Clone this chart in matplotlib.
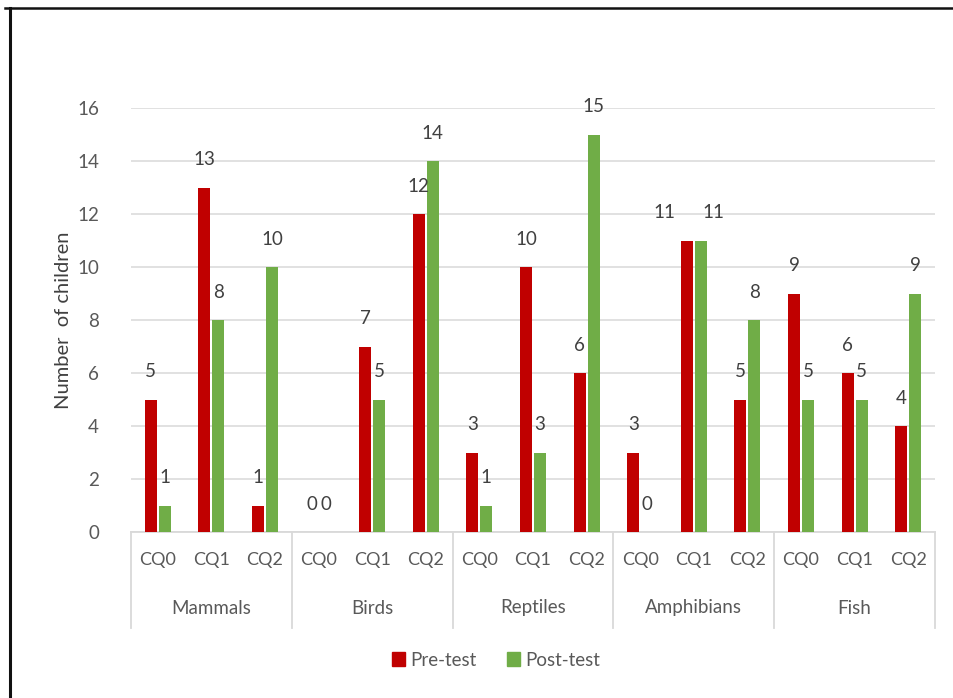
import matplotlib
matplotlib.use("Agg")
import matplotlib.pyplot as plt
from matplotlib.lines import Line2D
from matplotlib.patches import Patch

# Data
groups = ["Mammals", "Birds", "Reptiles", "Amphibians", "Fish"]
questions = ["CQ0", "CQ1", "CQ2"]
pre_test = [5, 13, 1, 0, 7, 12, 3, 10, 6, 3, 11, 5, 9, 6, 4]
post_test = [1, 8, 10, 0, 5, 14, 1, 3, 15, 0, 11, 8, 5, 5, 9]

RED = "#C00000"
GREEN = "#70AD47"
TEXT = "#595959"
GRID = "#D9D9D9"

plt.rcParams["font.family"] = ["Lato", "DejaVu Sans"]

W, H = 954, 698
fig = plt.figure(figsize=(W / 100, H / 100), dpi=100)
ax = fig.add_axes([131 / W, 1 - 532 / H, (935 - 131) / W, (532 - 108) / H])

n = len(pre_test)
x = list(range(n))
bw = 0.225
off = 0.13

ax.bar([i - off for i in x], pre_test, width=bw, color=RED, zorder=3)
ax.bar([i + off for i in x], post_test, width=bw, color=GREEN, zorder=3)

# Equal-height neighbouring labels are pushed apart sideways so they stay legible
def nudge(i):
    if pre_test[i] == post_test[i] and pre_test[i] > 0:
        return -16, 9
    return 0, 0

for i in x:
    dl, dr = nudge(i)
    ax.annotate(str(pre_test[i]), (i - off, pre_test[i]), xytext=(dl, 20),
                textcoords="offset points", ha="center", va="center",
                fontsize=13.5, color="#404040")
    ax.annotate(str(post_test[i]), (i + off, post_test[i]), xytext=(dr, 20),
                textcoords="offset points", ha="center", va="center",
                fontsize=13.5, color="#404040")

ax.set_xlim(-0.5, n - 0.5)
ax.set_ylim(0, 16)
ax.set_yticks(range(0, 17, 2))
ax.yaxis.grid(True, color=GRID, linewidth=1.1, zorder=0)
ax.set_axisbelow(True)
ax.tick_params(axis="y", length=0, pad=23, labelsize=13.5, labelcolor=TEXT)
ax.set_xticks([])
for s in ["top", "right", "left"]:
    ax.spines[s].set_visible(False)
ax.spines["bottom"].set_color(GRID)
ax.spines["bottom"].set_linewidth(1.3)

ax.set_ylabel("Number  of children", fontsize=14.5, color="#404040", labelpad=4)

# Two-level category axis
tr = ax.get_xaxis_transform()
ax_h = 532 - 108
for gi, g in enumerate(groups):
    for qi, q in enumerate(questions):
        ax.text(gi * 3 + qi, -(560 - 532) / ax_h, q, transform=tr,
                ha="center", va="center", fontsize=13, color=TEXT)
    ax.text(gi * 3 + 1, -(608 - 532) / ax_h, g, transform=tr,
            ha="center", va="center", fontsize=13.5, color=TEXT)
for b in range(len(groups) + 1):
    ax.add_line(Line2D([b * 3 - 0.5, b * 3 - 0.5], [0, -(628 - 532) / ax_h],
                       transform=tr, color=GRID, linewidth=1.3, clip_on=False))

handles = [Patch(color=RED, label="Pre-test"), Patch(color=GREEN, label="Post-test")]
fig.legend(handles=handles, loc="center", bbox_to_anchor=(496 / W, 1 - 660 / H),
           ncol=2, frameon=False, fontsize=13.5, handlelength=0.7, handleheight=0.7,
           handletextpad=0.3, columnspacing=1.6, labelcolor=TEXT)

# Outer frame (top and left edges)
fig.add_artist(Line2D([5 / W, 1], [1 - 8 / H, 1 - 8 / H], transform=fig.transFigure,
                      color="#111111", linewidth=1.8))
fig.add_artist(Line2D([10 / W, 10 / W], [0, 1 - 8 / H], transform=fig.transFigure,
                      color="#111111", linewidth=2.2))

fig.savefig("out.png", dpi=100, facecolor="white")
